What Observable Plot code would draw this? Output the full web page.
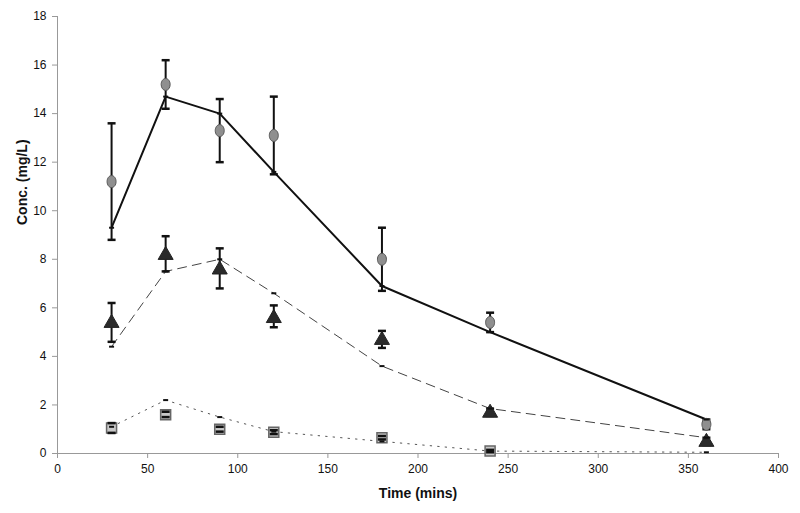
<!DOCTYPE html>
<html>
<head>
<meta charset="utf-8">
<script src="https://cdn.jsdelivr.net/npm/d3@7"></script>
<script src="https://cdn.jsdelivr.net/npm/@observablehq/plot@0.6"></script>
<style>
  html, body { margin: 0; padding: 0; background: #fff; }
  #chart { width: 800px; height: 513px; }
</style>
</head>
<body>
<div id="chart"></div>
<script>
// ---- data ----
const times = [30, 60, 90, 120, 180, 240, 360];
const circleMean = [11.2, 15.2, 13.3, 13.1, 8.0, 5.4, 1.2];
const circleLo   = [8.8, 14.2, 12.0, 11.5, 6.7, 5.0, 1.0];
const circleHi   = [13.6, 16.2, 14.6, 14.7, 9.3, 5.8, 1.4];
const solidFit   = [9.3, 14.7, 14.0, 11.6, 6.9, 5.0, 1.4];

const triMean = [5.4, 8.2, 7.6, 5.6, 4.7, 1.7, 0.5];
const triLo   = [4.6, 7.5, 6.8, 5.2, 4.35, 1.55, 0.35];
const triHi   = [6.2, 8.95, 8.45, 6.1, 5.05, 1.85, 0.65];
const dashFit = [4.4, 7.5, 8.0, 6.6, 3.6, 1.85, 0.65];

const sqMean = [1.05, 1.6, 1.0, 0.88, 0.65, 0.1, null];
const sqLo   = [0.85, 1.5, 0.9, 0.8, 0.58, 0.05, null];
const sqHi   = [1.25, 1.72, 1.1, 0.96, 0.72, 0.15, null];
const dotFit = [1.1, 2.2, 1.5, 0.9, 0.5, 0.1, 0.05];

const xTicks = [0, 50, 100, 150, 200, 250, 300, 350, 400];
const yTicks = [0, 2, 4, 6, 8, 10, 12, 14, 16, 18];

// ---- tables ----
const rows = (mean, lo, hi) => times.map((t, i) => ({t, m: mean[i], lo: lo[i], hi: hi[i]})).filter(d => d.m != null);
const fitRows = (fit) => times.map((t, i) => ({t, v: fit[i]}));
const circles = rows(circleMean, circleLo, circleHi);
const tris = rows(triMean, triLo, triHi);
const squares = rows(sqMean, sqLo, sqHi);
const solid = fitRows(solidFit), dashed = fitRows(dashFit), dotted = fitRows(dotFit);

// ---- custom symbols ----
const capSym = {draw(ctx) { ctx.moveTo(-4, 0); ctx.lineTo(4, 0); }};
const fitSym = {draw(ctx) { ctx.moveTo(-2.5, 0); ctx.lineTo(2.5, 0); }};
const ellipseSym = {draw(ctx) {
  const rx = 4.5, ry = 6, k = 0.5523;
  ctx.moveTo(rx, 0);
  ctx.bezierCurveTo(rx, ry * k, rx * k, ry, 0, ry);
  ctx.bezierCurveTo(-rx * k, ry, -rx, ry * k, -rx, 0);
  ctx.bezierCurveTo(-rx, -ry * k, -rx * k, -ry, 0, -ry);
  ctx.bezierCurveTo(rx * k, -ry, rx, -ry * k, rx, 0);
  ctx.closePath();
}};
const triSym = {draw(ctx) { ctx.moveTo(0, -8); ctx.lineTo(7.5, 5); ctx.lineTo(-7.5, 5); ctx.closePath(); }};
const sqSym = {draw(ctx) { ctx.moveTo(-5, -5); ctx.lineTo(5, -5); ctx.lineTo(5, 5); ctx.lineTo(-5, 5); ctx.closePath(); }};

function errorMarks(data) {
  return [
    Plot.ruleX(data, {x: "t", y1: "lo", y2: "hi", stroke: "#111", strokeWidth: 2}),
    Plot.dot(data, {x: "t", y: "lo", symbol: capSym, r: 4, stroke: "#111", strokeWidth: 2.5}),
    Plot.dot(data, {x: "t", y: "hi", symbol: capSym, r: 4, stroke: "#111", strokeWidth: 2.5})
  ];
}

const chart = Plot.plot({
  width: 800,
  height: 513,
  marginLeft: 57,
  marginRight: 22,
  marginTop: 16,
  marginBottom: 60,
  style: {fontFamily: "Liberation Sans, Arial, sans-serif", fontSize: "12px", color: "#111", background: "#fff"},
  x: {domain: [0, 400]},
  y: {domain: [0, 18]},
  marks: [
    Plot.ruleX([0], {stroke: "#999", strokeWidth: 1}),
    Plot.ruleY([0], {stroke: "#999", strokeWidth: 1}),
    Plot.axisY({ticks: yTicks, tickSize: 5, tickPadding: 6, stroke: "#999", label: null, fontSize: 12}),
    Plot.axisX({ticks: xTicks, tickSize: 5, tickPadding: 6, stroke: "#999", label: null, fontSize: 12}),
    // fitted lines
    Plot.line(solid, {x: "t", y: "v", stroke: "#111", strokeWidth: 2}),
    Plot.line(dashed, {x: "t", y: "v", stroke: "#444", strokeWidth: 1, strokeDasharray: "9,6"}),
    Plot.line(dotted, {x: "t", y: "v", stroke: "#555", strokeWidth: 1, strokeDasharray: "1.5,6"}),
    // error bars
    ...errorMarks(circles),
    ...errorMarks(tris),
    ...errorMarks(squares),
    // observed markers
    Plot.dot(circles, {x: "t", y: "m", symbol: ellipseSym, r: 6, fill: "#8f8f8f", stroke: "#555", strokeWidth: 1}),
    Plot.dot(tris, {x: "t", y: "m", symbol: triSym, r: 6, fill: "#2a2a2a", stroke: "#222", strokeWidth: 1}),
    Plot.dot(squares, {x: "t", y: "m", symbol: sqSym, r: 5, fill: "#c8c8c8", stroke: "#666", strokeWidth: 1.5}),
    Plot.dot(squares, {x: "t", y: "lo", symbol: capSym, r: 4, stroke: "#111", strokeWidth: 2.5}),
    Plot.dot(squares, {x: "t", y: "hi", symbol: capSym, r: 4, stroke: "#111", strokeWidth: 2.5}),
    // fitted point markers
    Plot.dot(solid, {x: "t", y: "v", symbol: fitSym, r: 3, stroke: "#111", strokeWidth: 2}),
    Plot.dot(dashed, {x: "t", y: "v", symbol: fitSym, r: 3, stroke: "#111", strokeWidth: 2}),
    Plot.dot(dotted, {x: "t", y: "v", symbol: fitSym, r: 3, stroke: "#111", strokeWidth: 2}),
    // axis titles
    Plot.text(["Time (mins)"], {frameAnchor: "bottom", dy: 44, fontWeight: "bold", fontSize: 14, fill: "#111"}),
    Plot.text(["Conc. (mg/L)"], {frameAnchor: "left", dx: -35, dy: -10, rotate: -90, fontWeight: "bold", fontSize: 14, fill: "#111"})
  ]
});
document.getElementById("chart").appendChild(chart);
</script>
</body>
</html>
